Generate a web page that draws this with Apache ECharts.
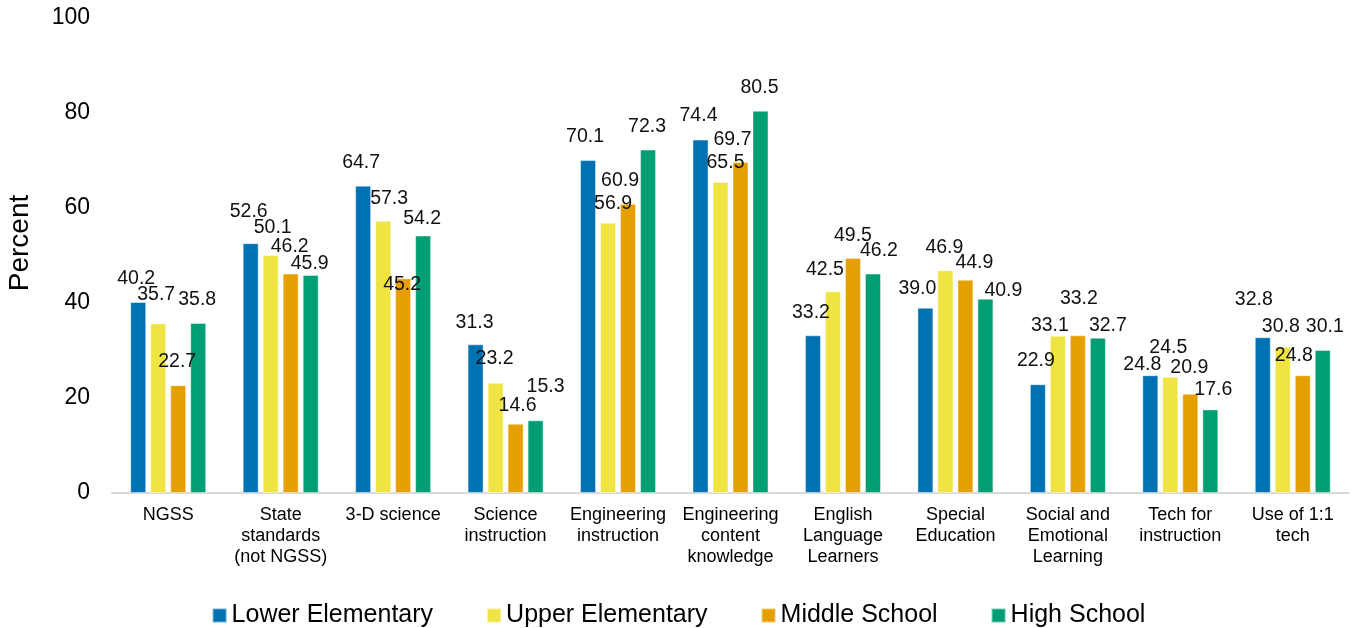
<!DOCTYPE html>
<html>
<head>
<meta charset="utf-8">
<script src="https://cdn.jsdelivr.net/npm/echarts@6/dist/echarts.min.js"></script>
<style>
  html, body { margin: 0; padding: 0; background: #fff; }
  #chart { width: 1357px; height: 628px; }
</style>
</head>
<body>
<div id="chart"></div>
<script>
// Professional development topics (category axis)
const categories = [
  'NGSS',
  'State\nstandards\n(not NGSS)',
  '3-D science',
  'Science\ninstruction',
  'Engineering\ninstruction',
  'Engineering\ncontent\nknowledge',
  'English\nLanguage\nLearners',
  'Special\nEducation',
  'Social and\nEmotional\nLearning',
  'Tech for\ninstruction',
  'Use of 1:1\ntech'
];

const seriesNames = ['Lower Elementary', 'Upper Elementary', 'Middle School', 'High School'];

// Percent of teachers, by grade band
const lowerElementary = [40.2, 52.6, 64.7, 31.3, 70.1, 74.4, 33.2, 39.0, 22.9, 24.8, 32.8];
const upperElementary = [35.7, 50.1, 57.3, 23.2, 56.9, 65.5, 42.5, 46.9, 33.1, 24.5, 30.8];
const middleSchool    = [22.7, 46.2, 45.2, 14.6, 60.9, 69.7, 49.5, 44.9, 33.2, 20.9, 24.8];
const highSchool      = [35.8, 45.9, 54.2, 15.3, 72.3, 80.5, 46.2, 40.9, 32.7, 17.6, 30.1];

const yTicks = { min: 0, max: 100, interval: 20 };

// Per-label nudges [dx, dy] in px so overlapping value labels stay readable
const nudgeLE = [[-2, 0], [-2, -9], [-2, 0], [-1, 1], [-3, 0], [-2, -1], [-2, 0], [-8, 4], [-2, -1], [-8, 12], [-9, -15]];
const nudgeUE = [[-2, -6], [2, -4], [6, 1], [-1, -1], [5, 4], [5, 4], [-8, 1], [-1, 0], [-8, 13], [-2, -6], [-2, 3]];
const nudgeMS = [[-1, -1], [-1, -4], [-1, 29], [2, 5], [-8, 0], [-8, 1], [0, 1], [9, 6], [1, -14], [-1, -3], [-9, 3]];
const nudgeHS = [[-1, 0], [-1, 12], [-1, 6], [10, -11], [-1, 0], [-1, 0], [6, 0], [18, 15], [10, 11], [3, 3], [2, 0]];

const colors = ['#0072B2', '#F0E442', '#E69F00', '#009E73'];
const values = [lowerElementary, upperElementary, middleSchool, highSchool];
const nudges = [nudgeLE, nudgeUE, nudgeMS, nudgeHS];

const FONT = '"Liberation Sans", Arial, Helvetica, sans-serif';

const series = values.map((vals, s) => ({
  name: seriesNames[s],
  type: 'bar',
  barWidth: 16,
  barGap: '25%',
  itemStyle: {
    color: colors[s],
    borderColor: 'rgba(255,255,255,0.45)',
    borderWidth: 1
  },
  label: {
    show: true,
    position: 'top',
    distance: 13,
    fontFamily: FONT,
    fontSize: 19.5,
    color: '#111',
    formatter: p => p.value.toFixed(1)
  },
  data: vals.map((v, i) => ({ value: v, label: { offset: nudges[s][i] } }))
}));

const chart = echarts.init(document.getElementById('chart'), null, { renderer: 'canvas' });
chart.setOption({
  animation: false,
  color: colors,
  textStyle: { fontFamily: FONT },
  grid: { left: 112, right: 8, top: 18, bottom: 135, containLabel: false, outerBoundsMode: 'none' },
  legend: {
    data: seriesNames,
    top: 598,
    left: 'center',
    icon: 'rect',
    itemWidth: 14,
    itemHeight: 14,
    itemGap: 53,
    textStyle: { fontFamily: FONT, fontSize: 25, color: '#000' }
  },
  xAxis: {
    type: 'category',
    data: categories,
    axisLine: { show: true, lineStyle: { color: '#d9d9d9', width: 2 } },
    axisTick: { show: false },
    axisLabel: {
      interval: 0,
      margin: 12,
      fontFamily: FONT,
      fontSize: 18,
      lineHeight: 21,
      color: '#000'
    }
  },
  yAxis: {
    type: 'value',
    min: yTicks.min,
    max: yTicks.max,
    interval: yTicks.interval,
    name: 'Percent',
    nameLocation: 'middle',
    nameGap: 78,
    nameTextStyle: { fontFamily: FONT, fontSize: 28, color: '#000', padding: [0, 0, 0, 25] },
    axisLine: { show: false },
    axisTick: { show: false },
    splitLine: { show: false },
    axisLabel: { margin: 22, fontFamily: FONT, fontSize: 23, color: '#000' }
  },
  series: series
});
</script>
</body>
</html>
